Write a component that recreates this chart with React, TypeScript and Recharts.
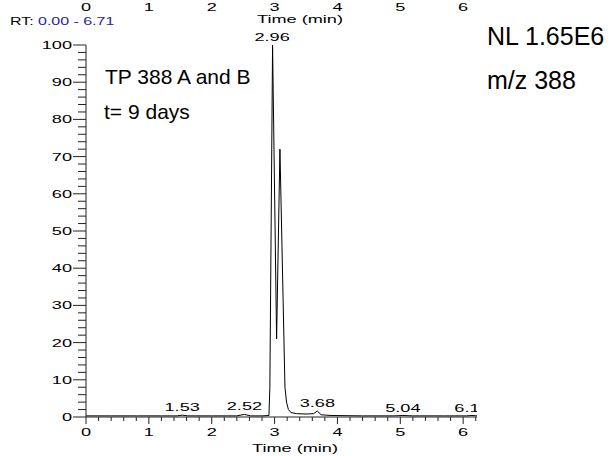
import { LineChart, Line, XAxis, YAxis, ReferenceDot } from 'recharts';

// chromatogram trace (time in min, relative abundance %)
const times = [
  0, 0.4, 0.8, 1.2, 1.45, 1.53, 1.62, 2.0, 2.4, 2.52, 2.62, 2.8, 2.91, 2.925,
  2.968, 3.032, 3.085, 3.165, 3.19, 3.22, 3.26, 3.35, 3.5, 3.62, 3.68, 3.74,
  3.9, 4.4, 4.9, 5.04, 5.2, 5.7, 6.05, 6.14, 6.22,
];
const intensity = [
  0.3, 0.3, 0.3, 0.3, 0.3, 0.5, 0.3, 0.3, 0.3, 0.7, 0.3, 0.3, 0.4, 8,
  100, 21, 72, 8, 4, 2, 1.2, 0.9, 0.8, 0.9, 1.6, 0.6,
  0.4, 0.3, 0.3, 0.4, 0.3, 0.3, 0.3, 0.4, 0.3,
];

const peakTimes = [1.53, 2.52, 2.96, 3.68, 5.04, 6.14];
const peakHeights = [0.5, 0.7, 100, 1.6, 0.4, 0.4];
const peakLabels = ['1.53', '2.52', '2.96', '3.68', '5.04', '6.14'];

const majorTimeTicks = [0, 1, 2, 3, 4, 5, 6];

const data = times.map((t, i) => ({ t, v: intensity[i] }));

// minor ticks every 0.2 min and every 2 %
const xTicks = Array.from({ length: 32 }, (_, i) => +(i * 0.2).toFixed(1));
const yTicks = Array.from({ length: 51 }, (_, i) => i * 2);

const W = 615;
const H = 456;
const M = { top: 0, right: 138, bottom: 0, left: 46 };

const FONT = 'Arial, "Liberation Sans", sans-serif';
const SX = 1.65; // the small labels in the original are stretched sideways

const YTick = ({ x, y, payload }: any) => {
  const v = payload.value;
  const major = v % 10 === 0;
  return (
    <g>
      <line x1={x - (major ? 13 : 8)} x2={x} y1={y} y2={y} stroke="#222" />
      {major && (
        <text
          transform={`translate(${x - 14},${y + 4}) scale(${SX},1)`}
          textAnchor="end"
          fontSize={11}
          fontFamily={FONT}
          fill="#000"
        >
          {v}
        </text>
      )}
    </g>
  );
};

const XTick = ({ x, y, payload }: any) => {
  const v = payload.value;
  const major = Math.abs(v - Math.round(v)) < 1e-6;
  return (
    <g>
      <line x1={x} x2={x} y1={y} y2={y + (major ? 7 : 4)} stroke="#222" />
      {major && (
        <text
          transform={`translate(${x},${y + 19}) scale(${SX},1)`}
          textAnchor="middle"
          fontSize={11}
          fontFamily={FONT}
          fill="#000"
        >
          {v}
        </text>
      )}
    </g>
  );
};

const TopTick = ({ x, y, payload }: any) => (
  <text
    transform={`translate(${x},${y}) scale(${SX},1)`}
    textAnchor="middle"
    fontSize={11}
    fontFamily={FONT}
    fill="#000"
  >
    {payload.value}
  </text>
);

const small = (x: number, y: number, anchor: string, sx = SX) => ({
  transform: `translate(${x},${y}) scale(${sx},1)`,
  textAnchor: anchor as any,
  fontSize: 11,
  fontFamily: FONT,
  fill: '#000',
});

export default function App() {
  return (
    <div style={{ position: 'absolute', left: 0, top: 0, width: W, height: H, background: '#fff' }}>
      <LineChart width={W} height={H} data={data} margin={M}>
        <defs>
          <clipPath id="peakClip">
            <rect x={0} y={0} width={W - M.right} height={H} />
          </clipPath>
        </defs>
        <XAxis
          xAxisId="top"
          orientation="top"
          dataKey="t"
          type="number"
          domain={[0, 6.22]}
          allowDataOverflow
          ticks={majorTimeTicks}
          interval={0}
          height={45}
          axisLine={false}
          tickLine={false}
          tickSize={0}
          tickMargin={34}
          tick={<TopTick />}
        />
        <XAxis
          dataKey="t"
          type="number"
          domain={[0, 6.22]}
          allowDataOverflow
          ticks={xTicks}
          interval={0}
          height={39}
          tickLine={false}
          tickSize={0}
          tickMargin={0}
          axisLine={{ stroke: '#222' }}
          tick={<XTick />}
        />
        <YAxis
          type="number"
          domain={[0, 100]}
          ticks={yTicks}
          interval={0}
          width={40}
          tickLine={false}
          tickSize={0}
          tickMargin={0}
          axisLine={{ stroke: '#222' }}
          tick={<YTick />}
        />
        <Line
          dataKey="v"
          type="linear"
          stroke="#000"
          strokeWidth={1}
          dot={false}
          isAnimationActive={false}
        />
        {peakTimes.map((t, i) => (
          <ReferenceDot
            key={peakLabels[i]}
            x={t}
            y={peakHeights[i]}
            r={0}
            ifOverflow="visible"
            shape={(p: any) => (
              <g clipPath="url(#peakClip)">
                <text {...small(p.cx, p.cy - 4, 'middle')}>{peakLabels[i]}</text>
              </g>
            )}
          />
        ))}
        <text {...small(10, 25, 'start', 1.45)}>
          RT: <tspan fill="#2424a8">0.00 - 6.71</tspan>
        </text>
        <text {...small(300, 23, 'middle')}>Time (min)</text>
        <text {...small(295, 452, 'middle')}>Time (min)</text>
        <text x={105} y={84} fontSize={21} fontFamily={FONT} fill="#000">TP 388 A and B</text>
        <text x={104} y={119} fontSize={21} fontFamily={FONT} fill="#000">t= 9 days</text>
        <text x={487} y={45} fontSize={25} fontFamily={FONT} fill="#000">NL 1.65E6</text>
        <text x={487} y={89} fontSize={25} fontFamily={FONT} fill="#000">m/z 388</text>
      </LineChart>
    </div>
  );
}
